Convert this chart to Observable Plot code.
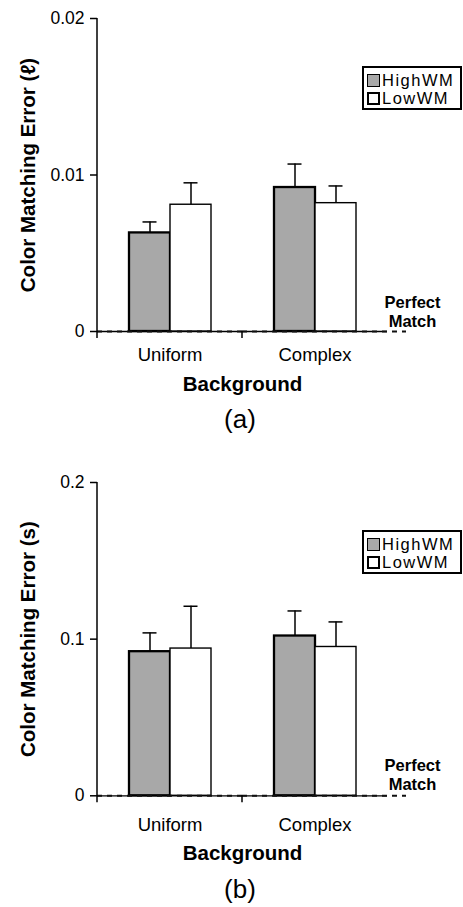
<!DOCTYPE html>
<html>
<head>
<meta charset="utf-8">
<script src="https://cdn.jsdelivr.net/npm/d3@7"></script>
<script src="https://cdn.jsdelivr.net/npm/@observablehq/plot@0.6"></script>
<style>
  html, body { margin: 0; padding: 0; background: #fff; }
  body { width: 463px; font-family: "Liberation Sans", Arial, sans-serif; color: #000; }
  .panel { position: relative; width: 463px; }
  .panel svg { display: block; }
  .legend { position: absolute; left: 362px; width: 100px; height: 44px; box-sizing: border-box;
    border: 2px solid #000; background: #fff; padding: 2.5px 0 0 3.4px; }
  .legend .row { height: 18.5px; line-height: 18.5px; font-size: 16.5px; letter-spacing: 1.5px; white-space: nowrap; }
  .legend .sw { display: inline-block; width: 12.6px; height: 12.6px; box-sizing: border-box;
    border: 1.5px solid #000; margin-right: 2px; vertical-align: -1px; }
  .caption { position: absolute; left: 190px; width: 100px; text-align: center;
    font-size: 26px; line-height: 30px; }
</style>
</head>
<body>
<div id="pa" class="panel" style="height:450px"></div>
<div id="pb" class="panel" style="height:457px"></div>
<script>
// ---- data ----
const backgrounds = ["Uniform", "Complex"];
const groups = ["HighWM", "LowWM"];
const groupColors = ["#a8a8a8", "#ffffff"];

// panel (a): luminance error (ℓ)
const lumHigh = [0.0063, 0.0092];
const lumLow = [0.0081, 0.0082];
const lumHighErr = [0.0007, 0.0015];
const lumLowErr = [0.0014, 0.0011];
const lumTicks = [0, 0.01, 0.02];

// panel (b): saturation error (s)
const satHigh = [0.092, 0.102];
const satLow = [0.094, 0.095];
const satHighErr = [0.012, 0.016];
const satLowErr = [0.027, 0.016];
const satTicks = [0, 0.1, 0.2];

const xTitle = "Background";
const perfectLabel = "Perfect\nMatch";

function panel(o) {
  const rows = backgrounds.flatMap((bg, i) => [
    {bg, group: groups[0], value: o.high[i], err: o.highErr[i]},
    {bg, group: groups[1], value: o.low[i], err: o.lowErr[i]}
  ]);
  const yMax = o.ticks[o.ticks.length - 1];
  return Plot.plot({
    width: 463,
    height: o.height,
    marginTop: o.marginTop,
    marginBottom: o.marginBottom,
    marginLeft: 96,
    marginRight: 76,
    style: {fontFamily: "'Liberation Sans', Arial, sans-serif", fontSize: "17px", color: "#000", background: "#fff", overflow: "visible"},
    fx: {domain: backgrounds, padding: 0, axis: null},
    x: {domain: groups, paddingInner: 0, paddingOuter: 0.732, axis: null},
    y: {domain: [0, yMax], axis: null},
    color: {domain: groups, range: groupColors},
    marks: [
      // x axis line
      Plot.ruleY([0], {stroke: "#000", strokeWidth: 1.3}),
      // bars
      Plot.barY(rows, {fx: "bg", x: "group", y: "value", fill: "group", stroke: "#000",
        strokeWidth: d => d.group === groups[0] ? 2.3 : 1.4}),
      // error bars (upper only)
      Plot.ruleX(rows, {fx: "bg", x: "group", y1: "value", y2: d => d.value + d.err, stroke: "#000", strokeWidth: 1.5}),
      Plot.tickY(rows, {fx: "bg", x: "group", y: d => d.value + d.err, stroke: "#000", strokeWidth: 1.5, insetLeft: 13.5, insetRight: 13.5}),
      // dashed "perfect match" line
      Plot.ruleY([0], {fx: () => backgrounds[0], stroke: "#111", strokeWidth: 2, strokeDasharray: "5,5"}),
      Plot.ruleY([0], {fx: () => backgrounds[1], stroke: "#111", strokeWidth: 2, strokeDasharray: "5,5", insetRight: -19}),
      // y axis
      Plot.axisY({ticks: o.ticks, tickFormat: d => String(d), tickSize: 7, tickPadding: 6, fontSize: 17.5, strokeWidth: 1.5, label: null}),
      // y axis line + category boundary ticks
      Plot.dot(backgrounds, {fx: d => d, frameAnchor: "middle", render: (index, scales, values, dim) => {
        const g = d3.create("svg:g").attr("stroke", "#000").attr("stroke-width", 1.5).attr("fill", "none");
        const x0 = dim.marginLeft;
        const y0 = scales.y(0);
        for (const i of index) {
          g.append("line").attr("x1", x0).attr("x2", x0).attr("y1", y0).attr("y2", y0 + 7);
          if (backgrounds[i] === backgrounds[0]) {
            g.append("line").attr("x1", x0).attr("x2", x0).attr("y1", scales.y(yMax)).attr("y2", y0);
          }
        }
        return g.node();
      }}),
      // category labels
      Plot.text(backgrounds, {fx: d => d, text: d => d, frameAnchor: "bottom", lineAnchor: "bottom", dy: o.catDy, fontSize: 18.5, fill: "#000"}),
      // x title
      Plot.text([xTitle], {fx: () => backgrounds[0], frameAnchor: "bottom-right", textAnchor: "middle", lineAnchor: "bottom", dy: o.titleDy, fontSize: 20.5, fontWeight: "bold", fill: "#000"}),
      // y title
      Plot.text([o.yLabel], {fx: () => backgrounds[0], frameAnchor: "left", rotate: -90, textAnchor: "middle", lineAnchor: "middle", dx: -69, fontSize: 20.5, fontWeight: "bold", fill: "#000"}),
      // perfect match label
      Plot.text([perfectLabel], {fx: () => backgrounds[1], frameAnchor: "bottom-right", textAnchor: "middle", lineAnchor: "bottom", lineHeight: 1.12, dx: 25, dy: o.pmDy, fontSize: 16.5, fontWeight: "bold", fill: "#000"})
    ]
  });
}

function legend(top) {
  const div = document.createElement("div");
  div.className = "legend";
  div.style.top = top + "px";
  groups.forEach((g, i) => {
    const row = document.createElement("div");
    row.className = "row";
    const sw = document.createElement("span");
    sw.className = "sw";
    sw.style.background = groupColors[i];
    if (i === 1) sw.style.borderWidth = "2px";
    row.appendChild(sw);
    row.appendChild(document.createTextNode(g));
    div.appendChild(row);
  });
  return div;
}

function caption(text, top) {
  const div = document.createElement("div");
  div.className = "caption";
  div.style.top = top + "px";
  div.textContent = text;
  return div;
}

const pa = document.getElementById("pa");
pa.appendChild(panel({high: lumHigh, low: lumLow, highErr: lumHighErr, lowErr: lumLowErr, ticks: lumTicks,
  yLabel: "Color Matching Error (ℓ)", height: 400, marginTop: 18, marginBottom: 69, catDy: 29, titleDy: 59, pmDy: -5}));
pa.appendChild(legend(66));
pa.appendChild(caption("(a)", 403.5));

const pb = document.getElementById("pb");
pb.appendChild(panel({high: satHigh, low: satLow, highErr: satHighErr, lowErr: satLowErr, ticks: satTicks,
  yLabel: "Color Matching Error (s)", height: 420, marginTop: 32, marginBottom: 74.7, catDy: 35, titleDy: 64, pmDy: -6}));
pb.appendChild(legend(80));
pb.appendChild(caption("(b)", 424));
</script>
</body>
</html>
